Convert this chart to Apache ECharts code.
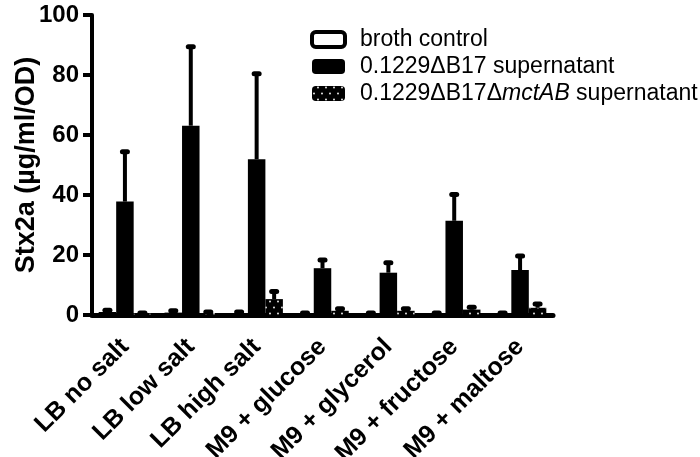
<!DOCTYPE html>
<html>
<head>
<meta charset="utf-8">
<script src="https://cdn.jsdelivr.net/npm/echarts@6/dist/echarts.min.js"></script>
<style>
  html, body { margin: 0; padding: 0; background: #fff; }
  #chart { width: 700px; height: 457px; }
</style>
</head>
<body>
<div id="chart"></div>
<script>
// 培养条件
var categories = ['LB no salt', 'LB low salt', 'LB high salt', 'M9 + glucose', 'M9 + glycerol', 'M9 + fructose', 'M9 + maltose']
var seriesNames = ['broth control', '0.1229ΔB17 supernatant', '0.1229ΔB17ΔmctAB supernatant']

// 均值 与 误差(仅上方)
var brothValues = [1.0, 0.8, 0.5, 0.4, 0.4, 0.4, 0.4]
var brothErrors = [0.6, 0.6, 0.5, 0.3, 0.3, 0.3, 0.3]
var wtValues = [37.8, 63.1, 51.9, 15.6, 14.1, 31.4, 15.0]
var wtErrors = [16.6, 26.3, 28.5, 2.7, 3.3, 8.8, 4.7]
var mutValues = [0.4, 0.6, 5.3, 1.4, 1.4, 1.8, 2.4]
var mutErrors = [0.3, 0.4, 2.5, 0.7, 0.7, 0.8, 1.3]

var yTicks = [0, 20, 40, 60, 80, 100]

var FONT = 'Liberation Sans, Arial, sans-serif'
var BAR_W = 17.5

function errData(values, errors) {
  return values.map(function(v, i) { return [i, v, errors[i]] })
}

function errSeries(values, errors, offset) {
  return {
    type: 'custom',
    z: 5,
    silent: true,
    data: errData(values, errors),
    renderItem: function(params, api) {
      var base = api.coord([api.value(0), api.value(1)])
      var top = api.coord([api.value(0), api.value(1) + api.value(2)])
      var x = base[0] + offset
      return {
        type: 'group',
        children: [
          { type: 'line', shape: { x1: x, y1: base[1], x2: x, y2: top[1] }, style: { stroke: '#000', lineWidth: 4 } },
          { type: 'rect', shape: { x: x - 5, y: top[1] - 2.5, width: 10, height: 5, r: 2.5 }, style: { fill: '#000' } }
        ]
      }
    }
  }
}

var chart = echarts.init(document.getElementById('chart'))
chart.setOption({
  animation: false,
  backgroundColor: '#fff',
  textStyle: { fontFamily: FONT, color: '#000' },
  grid: { left: 92, right: 147, top: 15, bottom: 142, outerBoundsMode: 'none', containLabel: false },
  legend: {
    orient: 'vertical',
    left: 305,
    top: 23,
    itemWidth: 33,
    itemHeight: 15,
    itemGap: 4,
    selectedMode: false,
    data: [
      { name: seriesNames[0], itemStyle: { borderWidth: 4, borderColor: '#000', color: '#fff' } },
      { name: seriesNames[1] },
      { name: seriesNames[2] }
    ],
    formatter: function(name) {
      return name.replace('mctAB', '{i|mctAB}')
    },
    textStyle: {
      fontFamily: FONT,
      fontSize: 23,
      color: '#000',
      padding: [0, 0, 0, 10],
      rich: { i: { fontFamily: FONT, fontSize: 23, fontStyle: 'italic', color: '#000' } }
    }
  },
  xAxis: {
    type: 'category',
    data: categories,
    axisLine: { lineStyle: { color: '#000', width: 5 } },
    axisTick: { alignWithLabel: true, length: 8, lineStyle: { color: '#000', width: 5 } },
    axisLabel: {
      interval: 0,
      rotate: 45,
      margin: 28,
      fontFamily: FONT,
      fontSize: 25,
      fontWeight: 'bold',
      color: '#000'
    }
  },
  yAxis: {
    type: 'value',
    min: 0,
    max: 100,
    interval: 20,
    name: 'Stx2a (µg/ml/OD)',
    nameLocation: 'middle',
    nameGap: 52,
    nameMoveOverlap: false,
    nameTextStyle: { fontFamily: FONT, fontSize: 27, fontWeight: 'bold', color: '#000' },
    splitLine: { show: false },
    axisLine: { show: true, lineStyle: { color: '#000', width: 4 } },
    axisTick: { show: true, length: 9, lineStyle: { color: '#000', width: 4 } },
    axisLabel: {
      margin: 13,
      fontFamily: FONT,
      fontSize: 24,
      fontWeight: 'bold',
      color: '#000',
      formatter: function(v) { return yTicks.indexOf(v) >= 0 ? String(v) : '' }
    }
  },
  series: [
    {
      name: seriesNames[0],
      type: 'bar',
      barWidth: BAR_W,
      barGap: '0%',
      data: brothValues,
      itemStyle: { color: '#fff', borderColor: '#000', borderWidth: 2 }
    },
    {
      name: seriesNames[1],
      type: 'bar',
      barWidth: BAR_W,
      barGap: '0%',
      data: wtValues,
      itemStyle: { color: '#000' }
    },
    {
      name: seriesNames[2],
      type: 'bar',
      barWidth: BAR_W,
      barGap: '0%',
      data: mutValues,
      itemStyle: {
        color: '#000',
        decal: {
          symbol: 'circle',
          symbolSize: 0.6,
          color: '#fff',
          dashArrayX: [[4, 4], [0, 4, 4, 0]],
          dashArrayY: [3, 3],
          rotation: 0
        }
      }
    },
    errSeries(brothValues, brothErrors, -BAR_W),
    errSeries(wtValues, wtErrors, 0),
    errSeries(mutValues, mutErrors, BAR_W)
  ]
})
</script>
</body>
</html>
